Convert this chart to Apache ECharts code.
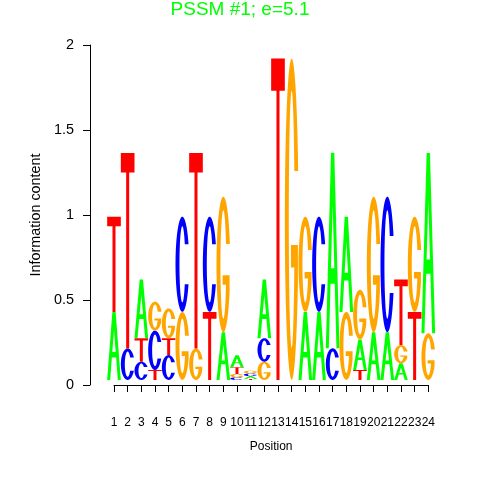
<!DOCTYPE html>
<html><head><meta charset="utf-8">
<script src="https://cdn.jsdelivr.net/npm/echarts@6/dist/echarts.min.js"></script>
<style>html,body{margin:0;padding:0;background:#fff}#c{width:480px;height:480px}</style>
</head><body><div id="c"></div>
<script>
// ---------------- data ----------------
const positions = [1,2,3,4,5,6,7,8,9,10,11,12,13,14,15,16,17,18,19,20,21,22,23,24];
const tickLabels = positions.map(String);
const yTicks = [0, 0.5, 1, 1.5, 2];
const stackBase = 0.03;
// letters of each column, from bottom to top
const colLetters = [
  ['A','T'], ['C','T'], ['C','T','A'], ['T','C','G'], ['C','T','G'], ['G','C'],
  ['G','T'], ['T','C'], ['A','G'], ['C','G','T','A'], ['T','A','C','G'], ['G','C','A'],
  ['T'], ['G'], ['A','G'], ['A','C'], ['C','A'], ['G','A'],
  ['T','A','G'], ['A','G'], ['A','C'], ['A','G','T'], ['T','G'], ['G','A']
];
// information content of each letter (bits), same order
const colHeights = [
  [0.40,0.56], [0.185,1.15], [0.107,0.138,0.345], [0.058,0.232,0.17], [0.146,0.099,0.175], [0.40,0.56],
  [0.185,1.15], [0.40,0.56], [0.28,0.798], [0.015,0.02,0.04,0.07], [0.006,0.016,0.016,0.016], [0.107,0.138,0.345],
  [1.89], [1.89], [0.40,0.56], [0.40,0.56], [0.186,1.15], [0.40,0.56],
  [0.058,0.18,0.292], [0.28,0.798], [0.28,0.798], [0.098,0.107,0.385], [0.40,0.56], [0.274,1.06]
];
const letterNames = ['A','C','G','T'];
const letterColors = {A:'#00FF00', C:'#0000FF', G:'#FFA500', T:'#FF0000'};

// ---------------- glyph outlines (unit box 0..100, y down) ----------------
function arc(cx, cy, rx, ry, a0, a1, n) {
  const pts = [];
  for (let i = 0; i <= n; i++) {
    const a = (a0 + (a1 - a0) * i / n) * Math.PI / 180;
    pts.push([cx + rx * Math.cos(a), cy - ry * Math.sin(a)]);
  }
  return pts;
}
const deg = v => Math.asin(v) * 180 / Math.PI;
const ORX = 50, ORY = 50, IRX = 21, IRY = 40;
function glyphC() {
  const t = 21;
  const outer = arc(50, 50, ORX, ORY, deg(t / ORY), 360 - deg(t / ORY), 60);
  const inner = arc(50, 50, IRX, IRY, 360 - deg(t / IRY), deg(t / IRY), 60);
  return [outer.concat(inner)];
}
function glyphG() {
  const tTop = 15, tBot = 20;
  const outer = arc(50, 50, ORX, ORY, deg(tTop / ORY), 360 - deg(tBot / ORY), 60);
  const oEnd = outer[outer.length - 1];
  const inner = arc(50, 50, IRX, IRY, 360 - deg(15 / IRY), deg(tTop / IRY), 60);
  const pts = outer.concat([[oEnd[0], 58], [45, 58], [45, 65]], inner);
  return [pts];
}
const GLYPHS = {
  A: [
    [[0,100],[38,0],[62,0],[100,100],[78,100],[65.5,67],[34.5,67],[22,100]],
    [[37.6,59],[62.4,59],[50,26.3]]
  ],
  T: [[[0,0],[100,0],[100,10],[61,10],[61,100],[39,100],[39,10],[0,10]]],
  C: glyphC(),
  G: glyphG()
};

// ---------------- build series data ----------------
const logoData = [];
colLetters.forEach((letters, i) => {
  let y = stackBase;
  letters.forEach((L, j) => {
    const h = colHeights[i][j];
    logoData.push([positions[i], y, y + h, letterNames.indexOf(L)]);
    y += h;
  });
});

function renderLetter(params, api) {
  const pos = api.value(0), y0 = api.value(1), y1 = api.value(2);
  const L = letterNames[api.value(3)];
  const p0 = api.coord([pos - 0.5, y1]);
  const p1 = api.coord([pos + 0.5, y0]);
  const left = p0[0], top = p0[1];
  const w = p1[0] - p0[0], h = p1[1] - p0[1];
  let d = '';
  GLYPHS[L].forEach(ring => {
    ring.forEach((pt, k) => {
      const x = left + pt[0] / 100 * w;
      const yy = top + pt[1] / 100 * h;
      d += (k === 0 ? 'M' : 'L') + x.toFixed(2) + ',' + yy.toFixed(2);
    });
    d += 'Z';
  });
  return {
    type: 'path',
    shape: { pathData: d },
    style: { fill: letterColors[L], stroke: null }
  };
}

const chart = echarts.init(document.getElementById('c'), null, { renderer: 'canvas' });
chart.setOption({
  animation: false,
  backgroundColor: '#ffffff',
  title: {
    text: 'PSSM #1; e=5.1',
    left: 'center',
    top: -5,
    textStyle: { color: '#00FF00', fontSize: 19, fontWeight: 'normal', fontFamily: 'Liberation Sans' }
  },
  grid: { left: 114, right: 51.7, top: 45, bottom: 95, containLabel: false, outerBoundsMode: 'none' },
  xAxis: {
    type: 'value',
    min: 1, max: 24, interval: 1,
    offset: 16.7,
    name: 'Position',
    nameLocation: 'middle',
    nameGap: 39,
    nameTextStyle: { color: '#000', fontSize: 12, fontFamily: 'Liberation Sans' },
    axisLine: { show: true, lineStyle: { color: '#000', width: 1 } },
    axisTick: { show: true, length: 7, inside: false, lineStyle: { color: '#000' } },
    axisLabel: {
      show: true, margin: 15, color: '#000', fontSize: 12, fontFamily: 'Liberation Sans',
      formatter: v => tickLabels[positions.indexOf(v)] || ''
    },
    splitLine: { show: false }
  },
  yAxis: {
    type: 'value',
    min: yTicks[0], max: yTicks[yTicks.length - 1], interval: 0.5,
    offset: 24,
    name: 'Information content',
    nameLocation: 'middle',
    nameGap: 43,
    nameTextStyle: { color: '#000', fontSize: 14.4, fontFamily: 'Liberation Sans' },
    axisLine: { show: true, lineStyle: { color: '#000', width: 1 } },
    axisTick: { show: true, length: 7, inside: false, lineStyle: { color: '#000' } },
    axisLabel: { show: true, margin: 16, color: '#000', fontSize: 14.4, fontFamily: 'Liberation Sans' },
    splitLine: { show: false }
  },
  series: [{
    type: 'custom',
    clip: false,
    renderItem: renderLetter,
    data: logoData,
    silent: true
  }]
});
</script>
</body></html>
